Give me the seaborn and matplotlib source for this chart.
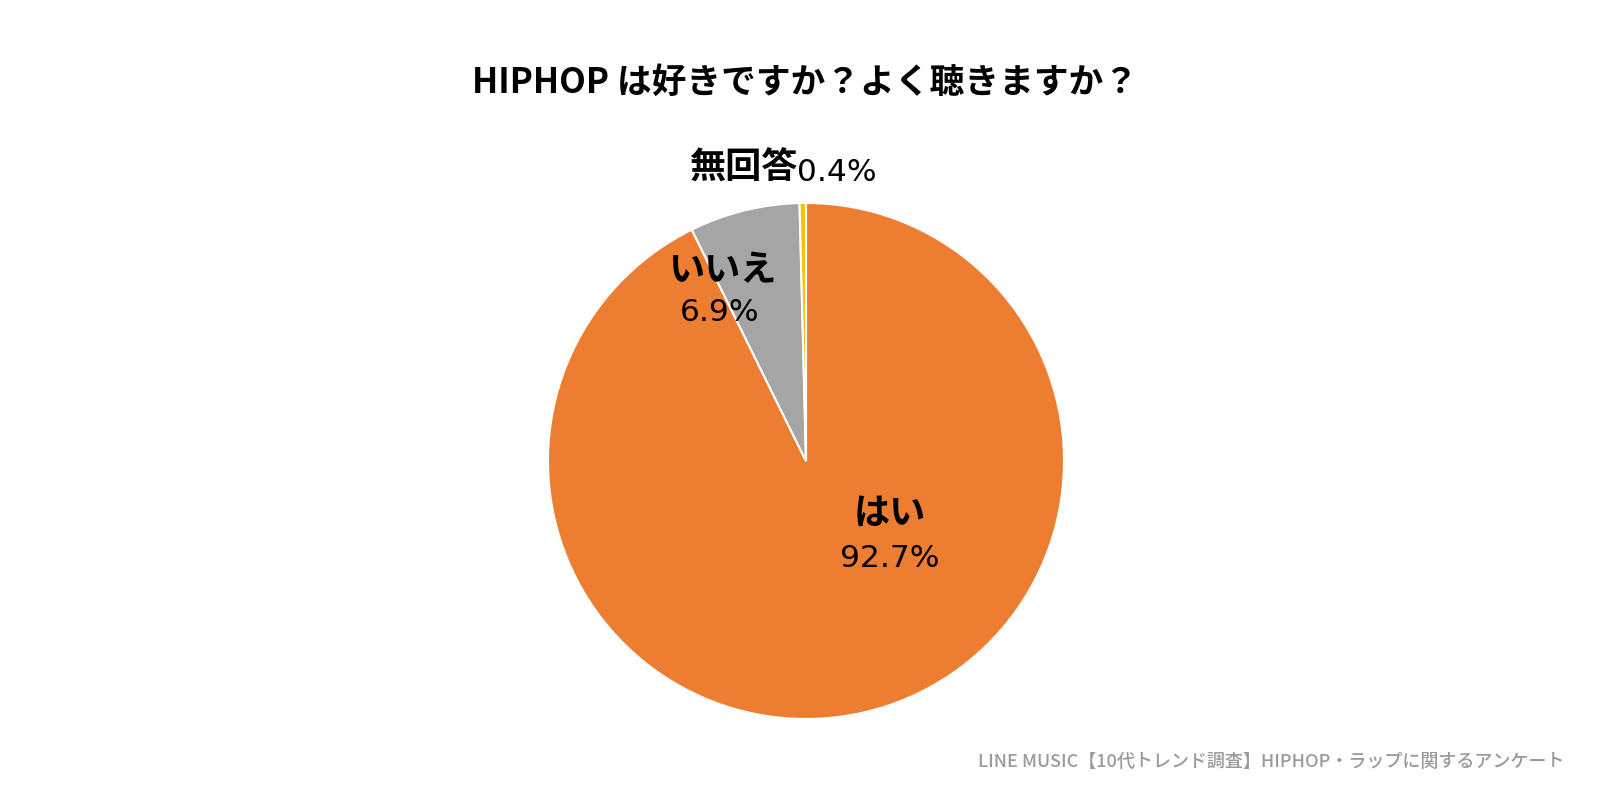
import matplotlib
matplotlib.use("Agg")
import matplotlib.pyplot as plt
import seaborn as sns

categories = ["はい", "いいえ", "無回答"]
values = [92.7, 6.9, 0.4]
pct_labels = ["92.7%", "6.9%", "0.4%"]
colors = ["#ED7D31", "#A5A5A5", "#FFC000"]

sns.set_theme(style="white")
plt.rcParams['font.family'] = ['Noto Sans CJK JP', 'DejaVu Sans']

W, H = 1600, 800
fig = plt.figure(figsize=(16, 8), dpi=100)
fig.patch.set_facecolor("white")

cx, cy, r = 806, 461, 258
ax = fig.add_axes([(cx - r) / W, (H - cy - r) / H, 2 * r / W, 2 * r / H])
ax.pie(values, colors=sns.color_palette(colors), startangle=90, counterclock=False,
       radius=1.0, wedgeprops=dict(edgecolor="white", linewidth=1.5))
ax.set_xlim(-1, 1)
ax.set_ylim(-1, 1)
ax.set_aspect("equal")
ax.axis("off")

def ft(x, y, s, **kw):
    fig.text(x / W, 1 - y / H, s, **kw)

pct_font = dict(family=['DejaVu Sans'], fontsize=22.5, color="black", fontweight="normal")
cat_font = dict(fontsize=26, fontweight="bold", color="black")

ft(805, 82, "HIPHOP は好きですか？よく聴きますか？", ha="center", va="center",
   fontsize=25, fontweight="bold", color="black")

ft(797, 168, categories[2], ha="right", va="center", **cat_font)
ft(797, 181, pct_labels[2], ha="left", va="baseline", **pct_font)

ft(722, 271, categories[1], ha="center", va="center", **cat_font)
ft(720, 321, pct_labels[1], ha="center", va="baseline", **pct_font)

ft(890, 513, categories[0], ha="center", va="center", **cat_font)
ft(890, 567, pct_labels[0], ha="center", va="baseline", **pct_font)

ft(1564, 762, "LINE MUSIC【10代トレンド調査】HIPHOP・ラップに関するアンケート",
   fontsize=13, color="#9a9a9a", ha="right", va="center", fontweight="medium")

fig.savefig("out.png", dpi=100, facecolor="white")
